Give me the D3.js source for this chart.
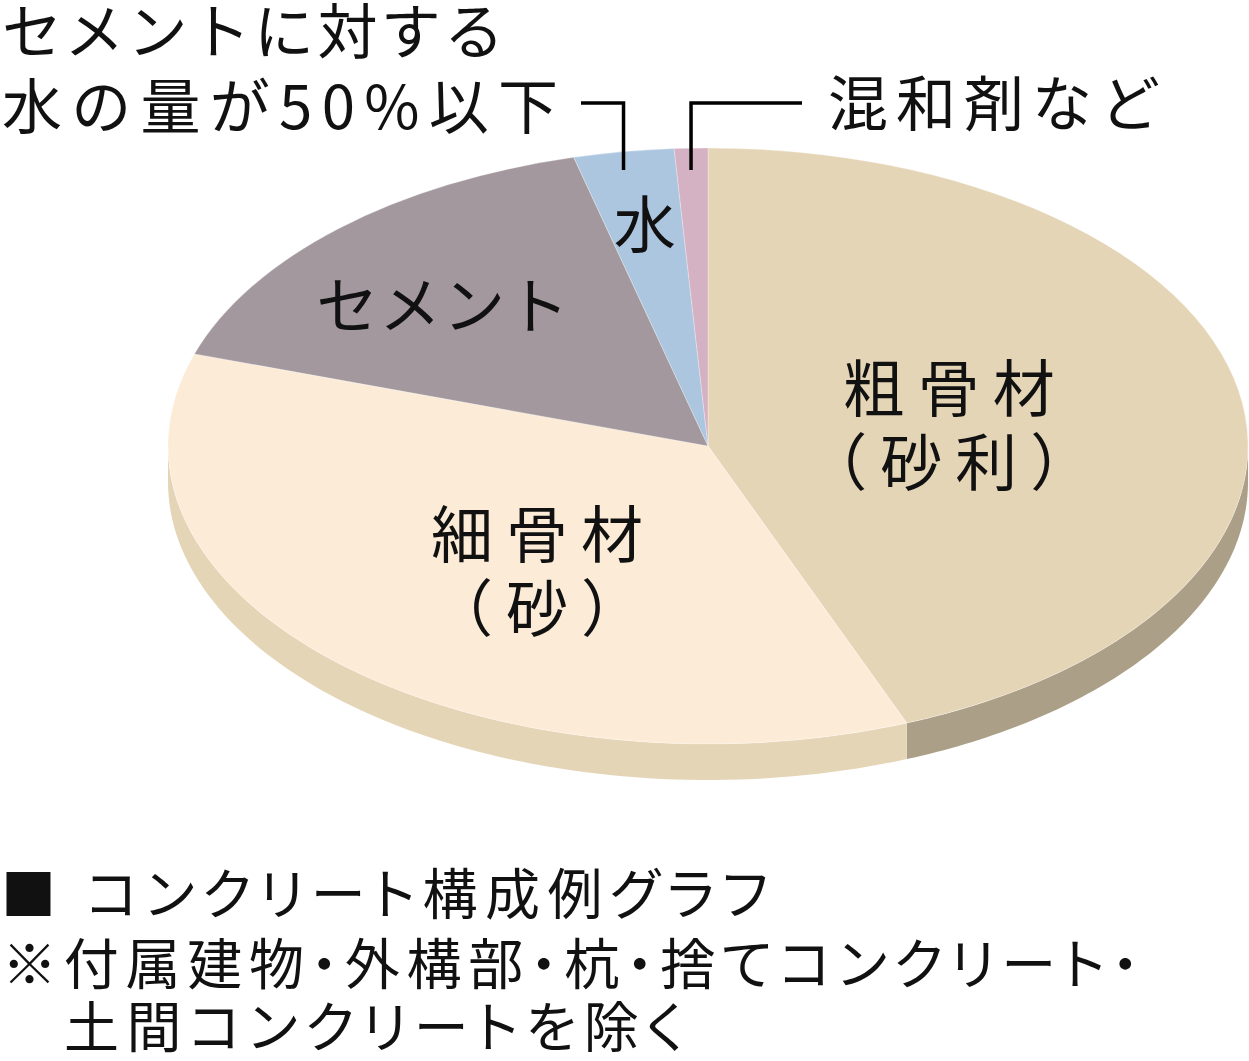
<!DOCTYPE html>
<html>
<head>
<meta charset="utf-8">
<script src="https://cdn.jsdelivr.net/npm/d3@7"></script>
<style>
  html, body { margin: 0; padding: 0; background: #fff; }
  svg { display: block; font-family: "Noto Sans CJK JP", "Noto Sans", sans-serif; }
  .prop { font-feature-settings: "palt"; }
</style>
</head>
<body>
<div id="chart"></div>
<script>
// --- data ---
const categories = ["粗骨材", "細骨材", "セメント", "水", "混和剤"];
const values = [44, 36, 16, 3, 1];
const labelLines = [["粗骨材", "（砂利）"], ["細骨材", "（砂）"], ["セメント"], ["水"], []];
const topColors = ["#e5d5b7", "#fcecd7", "#a3989d", "#adc6e0", "#d5b2c3"];
const sideColors = ["#ab9f88", "#e5d5b7", "#7f767a", "#8aa0b6", "#aa8e9c"];
const noteTop = ["セメントに対する", "水の量が50%以下"];
const noteMix = "混和剤など";
const footer = ["■", "コンクリート構成例グラフ", "※付属建物・外構部・杭・捨てコンクリート・", "土間コンクリートを除く"];

const width = 1249;
const height = 1061;

// ellipse geometry
const cx = 708, cy = 446, rx = 540, ry = 298, depth = 36;

const svg = d3
  .select("#chart")
  .append("svg")
  .attr("width", width)
  .attr("height", height);

const pie = d3.pie().sort(null).value((d) => d.value);
const arcs = pie(categories.map((c, i) => ({ name: c, value: values[i], i })));

// point on the top ellipse for a pie angle (0 = top, clockwise)
function pt(a, dy = 0) {
  return [cx + rx * Math.sin(a), cy - ry * Math.cos(a) + dy];
}

// --- sides (front half only) ---
const sideG = svg.append("g").attr("class", "sides");
arcs.forEach((d) => {
  const a0 = Math.max(d.startAngle, Math.PI / 2);
  const a1 = Math.min(d.endAngle, (3 * Math.PI) / 2);
  if (a1 <= a0) return;
  const steps = 80;
  const top = d3.range(steps + 1).map((k) => pt(a0 + ((a1 - a0) * k) / steps));
  const bot = top.map(([x, y]) => [x, y + depth]).reverse();
  sideG
    .append("path")
    .attr("d", d3.line()(top.concat(bot)) + "Z")
    .attr("fill", sideColors[d.data.i]);
});

// --- top face ---
const arc = d3.arc().innerRadius(0).outerRadius(rx);
const topG = svg
  .append("g")
  .attr("transform", `translate(${cx},${cy}) scale(1,${ry / rx})`);

topG
  .selectAll("path")
  .data(arcs)
  .enter()
  .append("path")
  .attr("d", arc)
  .attr("fill", (d) => topColors[d.data.i])
  .attr("stroke", "#fff")
  .attr("stroke-opacity", 0.35)
  .attr("stroke-width", 1);

// --- slice labels ---
const labelR = [0.45, 0.53, 0.68, 0.75, 0];
const labelNudge = [[2, 6], [25, 12], [-14, 8], [0, 0], [0, 0]];
const labelSpacing = [13, 13, 2, 0, 0];
const lineGap = 74;
arcs.forEach((d) => {
  const lines = labelLines[d.data.i];
  if (!lines.length) return;
  const mid = (d.startAngle + d.endAngle) / 2;
  const r = labelR[d.data.i];
  const [nx, ny] = labelNudge[d.data.i];
  const sp = labelSpacing[d.data.i];
  const x = cx + rx * r * Math.sin(mid) + nx;
  const y = cy - ry * r * Math.cos(mid) + ny;
  const t = svg
    .append("text")
    .attr("text-anchor", "middle")
    .attr("font-size", 62)
    .attr("letter-spacing", sp)
    .attr("fill", "#111");
  lines.forEach((s, k) => {
    t.append("tspan")
      .attr("x", x + sp / 2)
      .attr("y", y - ((lines.length - 1) * lineGap) / 2 + k * lineGap)
      .attr("dy", "0.36em")
      .text(s);
  });
});

// --- leader lines for 水 and 混和剤 ---
const leaderY = 103;
const leaderBottom = 170;
const waterMid = (arcs[3].startAngle + arcs[3].endAngle) / 2;
const mixMid = (arcs[4].startAngle + arcs[4].endAngle) / 2;
const wx = cx + rx * Math.sin(waterMid);
const mx = cx + rx * Math.sin(mixMid);

svg
  .append("path")
  .attr("d", `M581,${leaderY}H${wx}V${leaderBottom}`)
  .attr("fill", "none")
  .attr("stroke", "#000")
  .attr("stroke-width", 3.5);
svg
  .append("path")
  .attr("d", `M${mx},${leaderBottom}V${leaderY}H802`)
  .attr("fill", "none")
  .attr("stroke", "#000")
  .attr("stroke-width", 3.5);

// --- annotations ---
// one text element per block, each line stretched to its width
function block(lines, size, cls) {
  const t = svg
    .append("text")
    .attr("class", cls || null)
    .attr("font-size", size)
    .attr("fill", "#111");
  lines.forEach(([str, x, y, len]) => {
    const s = t.append("tspan").attr("x", x).attr("y", y).text(str);
    if (len) s.attr("textLength", len).attr("lengthAdjust", "spacing");
  });
  return t;
}

block(
  [
    [noteTop[0], 2, 54, 502],
    [noteTop[1], 2, 129, 556],
  ],
  60
);
block([[noteMix, 828, 126, 332]], 60);

// --- footer ---
block(
  [
    [footer[0], 1, 914, 0],
    [footer[1], 86, 914, 682],
    [footer[2], 2, 984, 1137],
    [footer[3], 64, 1047, 620],
  ],
  55,
  "prop"
);
</script>
</body>
</html>
